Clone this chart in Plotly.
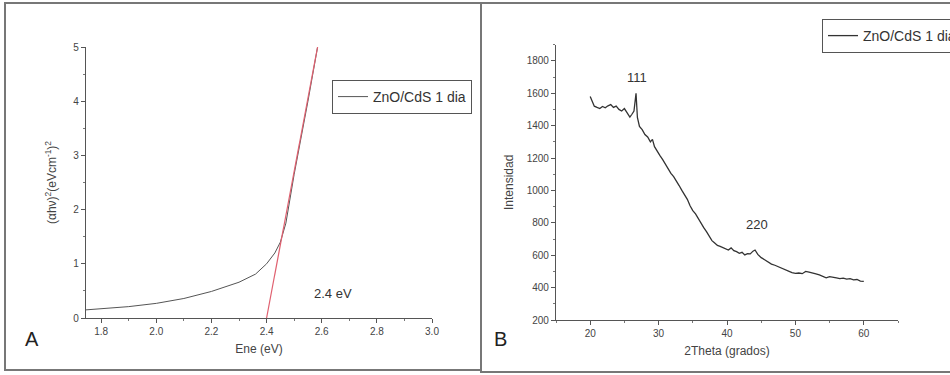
import plotly.graph_objects as go

# Panel A: Tauc plot for ZnO/CdS film (1 day)
energy_ev = [1.745, 1.80, 1.90, 2.00, 2.10, 2.20, 2.30, 2.36, 2.40, 2.43, 2.45, 2.47, 2.50, 2.55, 2.585]
tauc_y = [0.15, 0.17, 0.21, 0.27, 0.36, 0.49, 0.66, 0.81, 1.00, 1.20, 1.40, 1.75, 2.65, 4.00, 5.00]
# linear fit extrapolated to the energy axis (band gap)
fit_x = [2.40, 2.585]
fit_y = [0.0, 5.0]
band_gap_label = "2.4 eV"

# Panel B: XRD pattern
two_theta = [20.0, 20.3, 20.6, 21.0, 21.4, 21.8, 22.2, 22.6, 23.0, 23.4, 23.8, 24.2, 24.6, 25.0,
             25.4, 25.8, 26.1, 26.4, 26.7, 26.9, 27.2, 27.6, 28.0, 28.4, 28.8, 29.1, 29.4, 29.8,
             30.2, 30.6, 31.0, 31.4, 31.8, 32.2, 32.6, 33.0, 33.4, 33.8, 34.2, 34.6, 35.0, 35.4,
             35.8, 36.2, 36.6, 37.0, 37.4, 37.8, 38.2, 38.6, 39.0, 39.4, 39.8, 40.2, 40.6, 41.0,
             41.4, 41.8, 42.2, 42.6, 43.0, 43.4, 43.8, 44.1, 44.5, 45.0, 45.5, 46.0, 46.5, 47.0,
             47.5, 48.0, 48.5, 49.0, 49.5, 50.0, 50.5, 51.0, 51.5, 52.0, 52.5, 53.0, 53.5, 54.0,
             54.5, 55.0, 55.5, 56.0, 56.5, 57.0, 57.5, 58.0, 58.5, 59.0, 59.5, 60.0]
intensity = [1580, 1545, 1520, 1512, 1505, 1518, 1510, 1522, 1530, 1512, 1520, 1500, 1490, 1505,
             1478, 1452, 1470, 1490, 1600, 1450, 1395, 1375, 1345, 1330, 1300, 1315, 1270, 1240,
             1215, 1190, 1160, 1130, 1105, 1085, 1060, 1030, 1000, 970, 945, 905, 875, 855,
             825, 800, 770, 745, 720, 690, 675, 660, 655, 648, 640, 632, 645, 628,
             622, 612, 618, 602, 610, 608, 625, 632, 605, 585, 572, 558, 545, 538,
             528, 518, 512, 498, 492, 488, 490, 486, 500, 495, 492, 485, 478, 470,
             460, 468, 462, 460, 455, 458, 452, 455, 448, 450, 440, 438]
peak_labels = ["111", "220"]
peak_pos = [(26.9, 1700), (44.4, 790)]

series_name = "ZnO/CdS 1 dia"
FONT = "Liberation Sans, Arial, sans-serif"
W, H = 950, 375


def px(x):
    return x / W


def py(y):
    return 1 - y / H


fig = go.Figure()

fig.add_trace(go.Scatter(x=energy_ev, y=tauc_y, mode="lines", name=series_name,
                         line=dict(color="#555555", width=1), legend="legend",
                         xaxis="x", yaxis="y"))
fig.add_trace(go.Scatter(x=fit_x, y=fit_y, mode="lines", showlegend=False,
                         line=dict(color="#e06070", width=1.2), xaxis="x", yaxis="y"))
fig.add_trace(go.Scatter(x=two_theta, y=intensity, mode="lines", name=series_name,
                         line=dict(color="#333333", width=1.3), legend="legend2",
                         xaxis="x2", yaxis="y2"))

axis_common = dict(showline=True, linecolor="#555555", linewidth=1.2, ticks="outside",
                   ticklen=4, tickwidth=1, tickcolor="#555555", showgrid=False,
                   zeroline=False, mirror=False,
                   tickfont=dict(family=FONT, size=10, color="#444444"),
                   title_font=dict(family=FONT, size=12, color="#444444"))
minor_common = dict(ticks="outside", ticklen=2, tickcolor="#777777", showgrid=False)

legend_common = dict(xanchor="left", yanchor="top", bordercolor="#555555", borderwidth=1,
                     bgcolor="white", font=dict(family=FONT, size=14, color="#333333"),
                     itemwidth=30, tracegroupgap=0)

fig.update_layout(
    width=W, height=H,
    margin=dict(l=0, r=0, t=0, b=0, autoexpand=False),
    paper_bgcolor="white", plot_bgcolor="white",
    font=dict(family=FONT, color="#444444"),
    xaxis=dict(axis_common, domain=[px(86), px(432)], range=[1.745, 3.0],
               tickvals=[1.8, 2.0, 2.2, 2.4, 2.6, 2.8, 3.0],
               ticktext=["1.8", "2.0", "2.2", "2.4", "2.6", "2.8", "3.0"],
               minor=dict(minor_common, dtick=0.1, tick0=1.8),
               title=dict(text="Ene (eV)", standoff=8), anchor="y"),
    yaxis=dict(axis_common, domain=[py(318), py(47)], range=[0, 5],
               dtick=1, minor=dict(minor_common, dtick=0.5),
               title=dict(text="(αhν)<sup>2</sup>(eVcm<sup>-1</sup>)<sup>2</sup>", standoff=14),
               anchor="x"),
    xaxis2=dict(axis_common, domain=[px(556), px(898)], range=[15, 65],
                tickvals=[20, 30, 40, 50, 60],
                minor=dict(minor_common, dtick=5, tick0=15),
                title=dict(text="2Theta (grados)", standoff=8), anchor="y2"),
    yaxis2=dict(axis_common, domain=[py(320), py(44.6)], range=[200, 1900],
                tickvals=[200, 400, 600, 800, 1000, 1200, 1400, 1600, 1800],
                minor=dict(minor_common, dtick=100, tick0=200),
                title=dict(text="Intensidad", standoff=10), anchor="x2"),
    legend=dict(legend_common, x=px(332), y=py(80)),
    legend2=dict(legend_common, x=px(822), y=py(19)),
)

annotations = [
    dict(x=px(23), y=py(352), xref="paper", yref="paper", text="A", showarrow=False,
         font=dict(family=FONT, size=20, color="#222222")),
    dict(x=px(500), y=py(352), xref="paper", yref="paper", text="B", showarrow=False,
         font=dict(family=FONT, size=20, color="#222222")),
    dict(x=2.64, y=0.46, xref="x", yref="y", text=band_gap_label, showarrow=False,
         font=dict(family=FONT, size=13, color="#333333")),
]
for lbl, (xv, yv) in zip(peak_labels, peak_pos):
    annotations.append(dict(x=xv, y=yv, xref="x2", yref="y2", text=lbl, showarrow=False,
                            font=dict(family=FONT, size=13, color="#333333")))
fig.update_layout(annotations=annotations)

# panel frames
frame = dict(type="rect", xref="paper", yref="paper",
             line=dict(color="#777777", width=2), fillcolor="rgba(0,0,0,0)")
fig.add_shape(frame, x0=px(5), x1=px(481), y0=py(370), y1=py(3))
fig.add_shape(frame, x0=px(481), x1=px(960), y0=py(372), y1=py(3))

fig.write_html("out.html")
